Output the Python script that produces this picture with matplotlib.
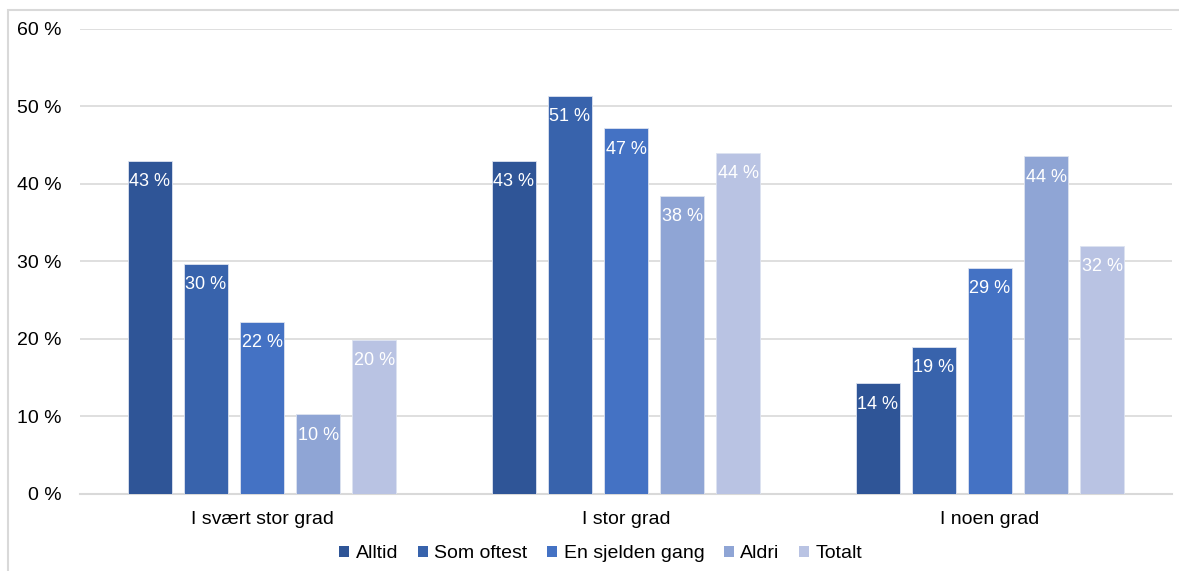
import numpy as np
import matplotlib.pyplot as plt
from matplotlib.patches import Rectangle

plt.rcParams['font.family'] = ['Liberation Sans', 'DejaVu Sans']

categories = ['I svært stor grad', 'I stor grad', 'I noen grad']
series = ['Alltid', 'Som oftest', 'En sjelden gang', 'Aldri', 'Totalt']
alltid = [43.0, 43.0, 14.3]
som_oftest = [29.7, 51.4, 19.0]
sjelden = [22.2, 47.2, 29.2]
aldri = [10.3, 38.5, 43.6]
totalt = [19.9, 44.0, 32.0]
values = [alltid, som_oftest, sjelden, aldri, totalt]
colors = ['#2F5597', '#3863AC', '#4472C4', '#8FA5D5', '#B9C3E3']

fig = plt.figure(figsize=[11.79, 5.71], dpi=100)
ax = fig.add_axes([0.0679, 0.1349, 0.9262, 0.8144])

x = np.arange(len(categories))
step = 0.154
width = 0.121
for i, (name, vals, c) in enumerate(zip(series, values, colors)):
    pos = x + (i - 2) * step
    bars = ax.bar(pos, vals, width=width, color=c, label=name,
                  edgecolor='#DDE3F0', linewidth=0.6, zorder=3)
    for b, v in zip(bars, vals):
        ax.annotate('%d %%' % round(v), (b.get_x() + b.get_width() / 2, v),
                    xytext=(0, -9), textcoords='offset points',
                    ha='center', va='top', color='white', fontsize=13, zorder=4)

ax.set_xlim(-0.5, 2.5)
ax.set_ylim(0, 60)
ax.set_yticks(range(0, 61, 10))
ax.set_yticklabels(['%d %%' % t for t in range(0, 61, 10)])
ax.set_xticks(x)
ax.set_xticklabels(categories)
ax.tick_params(axis='both', length=0, labelsize=14, colors='#000000')
ax.tick_params(axis='y', pad=13)
ax.tick_params(axis='x', pad=12)
ax.yaxis.grid(True, color='#D9D9D9', linewidth=1.2, zorder=0)
ax.set_axisbelow(True)
for s in ['top', 'right', 'left']:
    ax.spines[s].set_visible(False)
ax.spines['bottom'].set_color('#D9D9D9')
ax.spines['bottom'].set_linewidth(1.5)

leg = ax.legend(loc='center', bbox_to_anchor=(0.477, -0.128), ncol=5, frameon=False,
                fontsize=14, handlelength=0.5, handleheight=0.5, handletextpad=0.35,
                columnspacing=1.0, borderaxespad=0)
for h in leg.legend_handles:
    h.set_edgecolor('none')

# outer chart frame
fig.add_artist(Rectangle((8 / 1179, -0.1), 1.2, (571 - 10) / 571 + 0.1,
                         transform=fig.transFigure, fill=False,
                         edgecolor='#D9D9D9', linewidth=1.5))

fig.savefig('out.png', dpi=100)
